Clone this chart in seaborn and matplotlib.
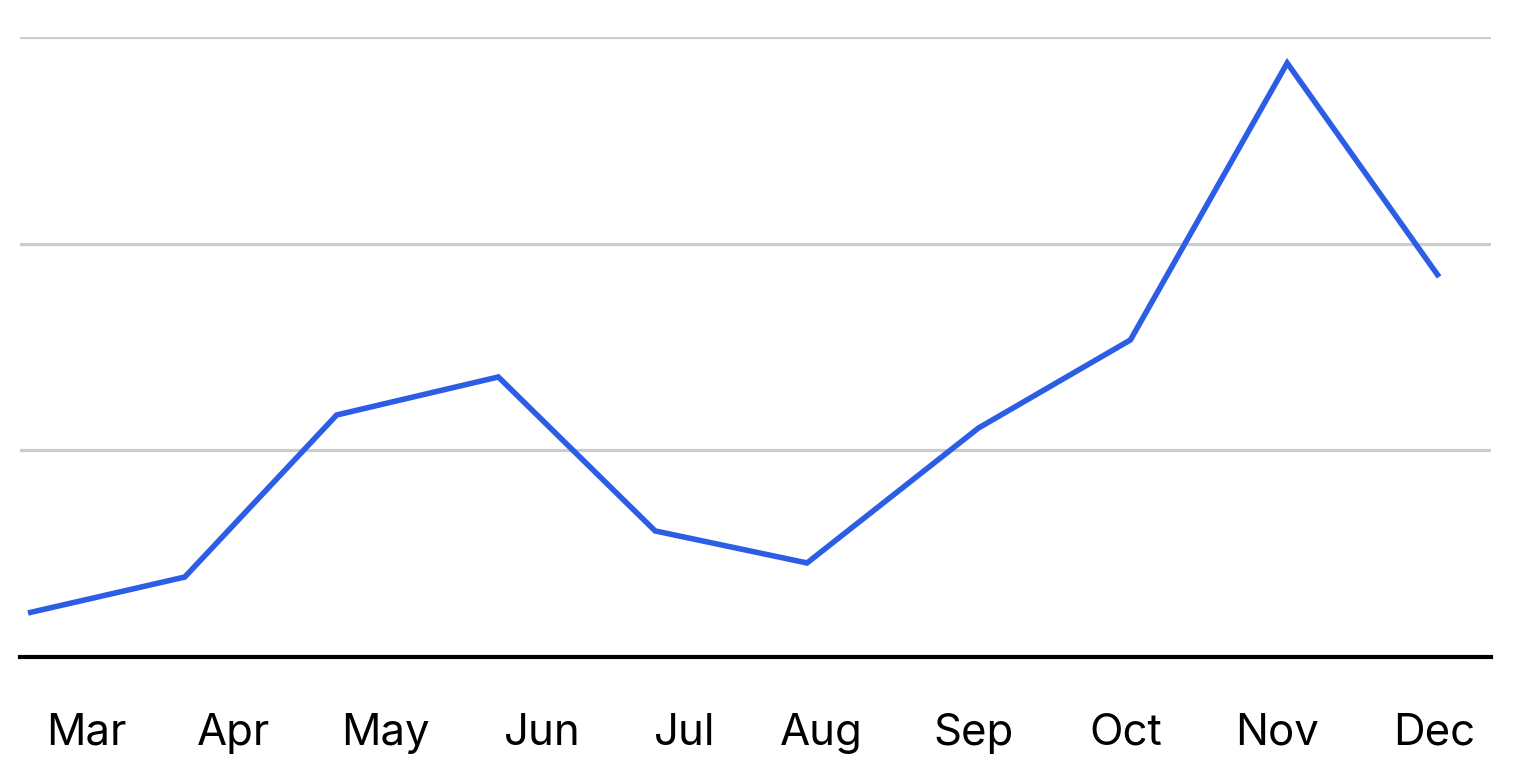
import pandas as pd
import matplotlib.pyplot as plt
import seaborn as sns

# data
point_dates = ['2023-02-28', '2023-04-01', '2023-05-02', '2023-06-04', '2023-07-06',
               '2023-08-06', '2023-09-10', '2023-10-11', '2023-11-12', '2023-12-13']
values = [21.3, 38.7, 117.1, 135.5, 61.0, 45.5, 110.8, 153.4, 287.4, 183.9]

tick_dates = ['2023-03-12', '2023-04-11', '2023-05-12', '2023-06-13', '2023-07-12',
              '2023-08-09', '2023-09-09', '2023-10-10', '2023-11-10', '2023-12-12']
tick_labels = ['Mar', 'Apr', 'May', 'Jun', 'Jul', 'Aug', 'Sep', 'Oct', 'Nov', 'Dec']
grid_values = [100, 200, 300]

df = pd.DataFrame({'date': pd.to_datetime(point_dates), 'value': values})

sns.set_style('white')
plt.rcParams['font.family'] = ['Inter', 'DejaVu Sans']

fig = plt.figure(figsize=(15.15, 7.74), dpi=100)
ax = fig.add_axes([20 / 1515, 117 / 774, 1471 / 1515, 620 / 774])

# horizontal grid lines
for g in grid_values:
    ax.axhline(g, color='#cccccc', linewidth=2.3, zorder=1)

sns.lineplot(data=df, x='date', y='value', ax=ax, color='#2c5de5',
             linewidth=4.0, zorder=3, clip_on=False,
             solid_capstyle='butt', solid_joinstyle='miter')

start = pd.Timestamp(point_dates[0])
ax.set_xlim(start - pd.Timedelta(days=1.63), start + pd.Timedelta(days=298.6))
ax.set_ylim(0, 300)

ax.set_xticks(pd.to_datetime(tick_dates))
ax.set_xticklabels(tick_labels)
ax.tick_params(axis='x', length=0, pad=40, labelsize=31.5, colors='black')
ax.set_yticks([])
ax.set_xlabel('')
ax.set_ylabel('')

ax.spines[['top', 'right', 'left']].set_visible(False)
ax.spines['bottom'].set_color('black')
ax.spines['bottom'].set_linewidth(3.0)
ax.spines['bottom'].set_zorder(4)

fig.savefig('out.png', dpi=100)
